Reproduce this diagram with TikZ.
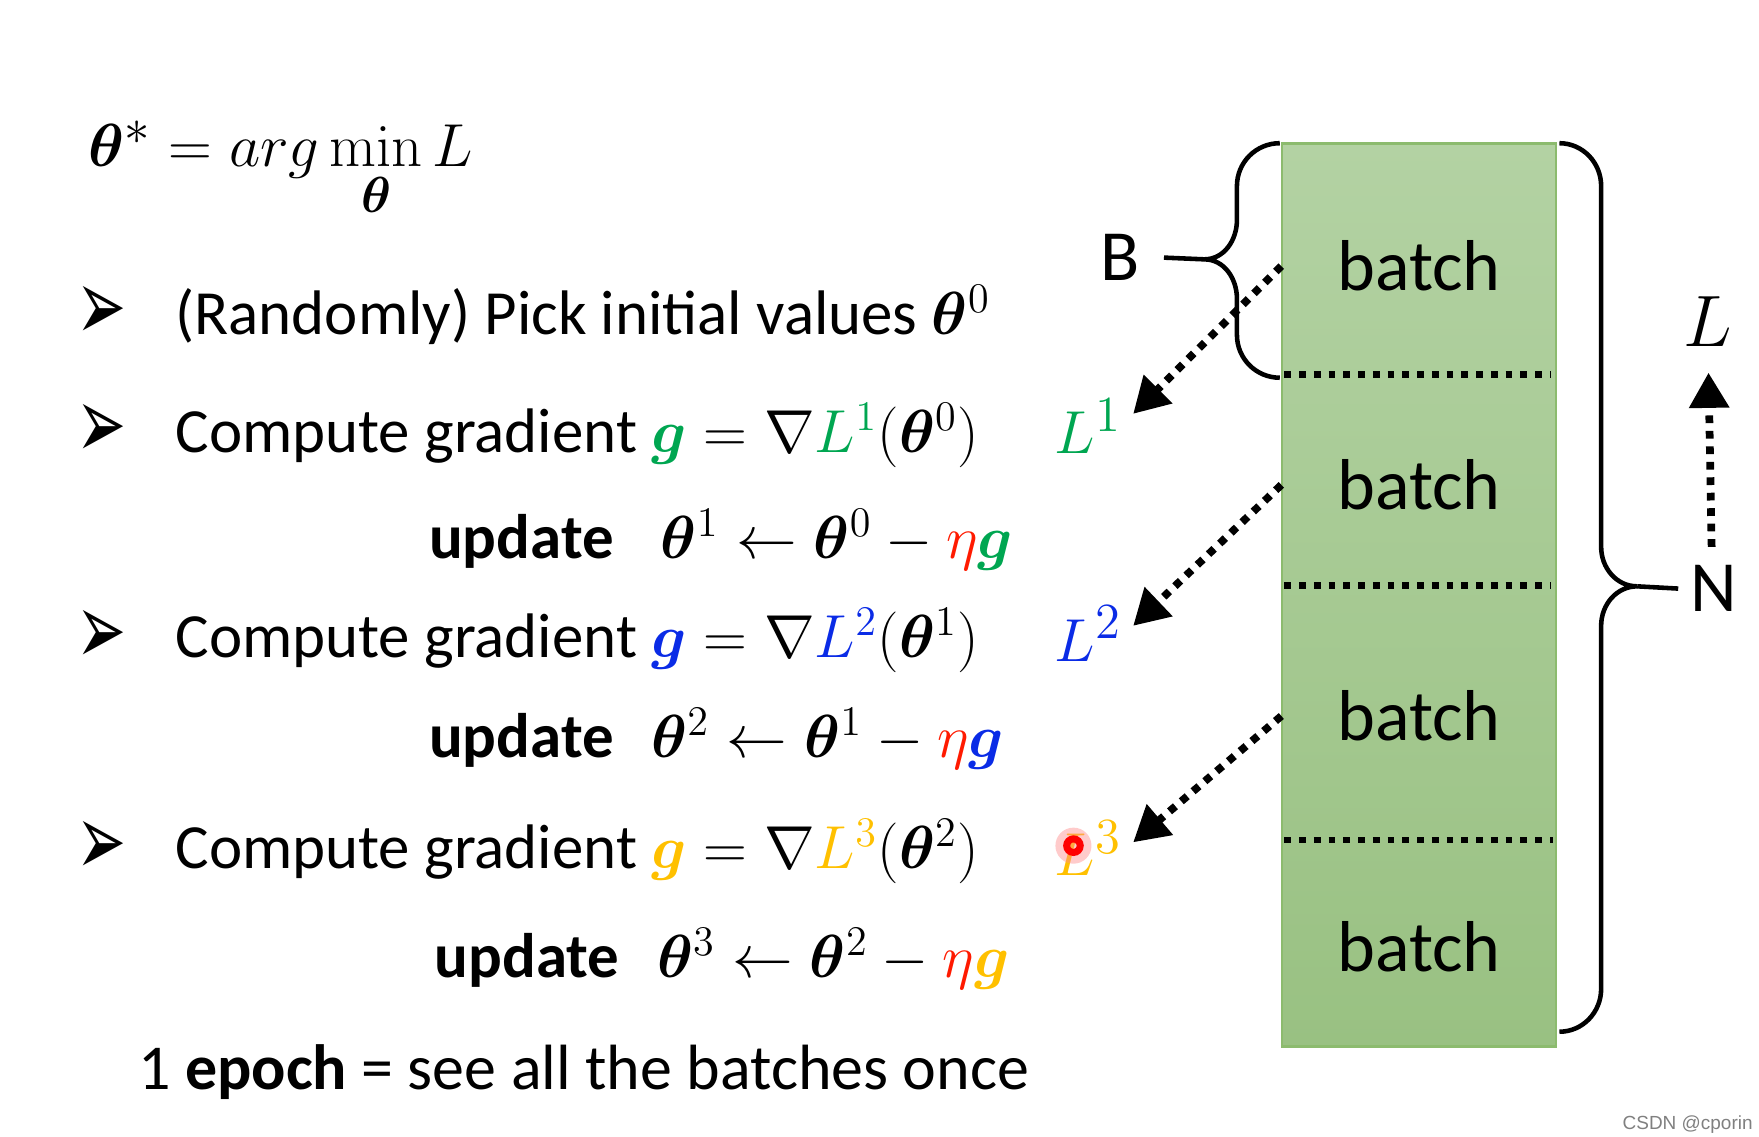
\documentclass[tikz,border=0pt]{standalone}
\usepackage{amsmath}
\usepackage{bm}
\usepackage[no-math]{fontspec}
\setmainfont{Carlito}
\newfontfamily\dingfont{DejaVu Sans}
\newfontfamily\markfont{Liberation Sans}
\usetikzlibrary{arrows.meta}

\definecolor{ggreen}{HTML}{00A651}
\definecolor{gblue}{HTML}{0A2BE6}
\definecolor{gorange}{HTML}{FFC000}
\definecolor{gred}{HTML}{FF1A00}
\definecolor{boxtop}{HTML}{B3D2A3}
\definecolor{boxbot}{HTML}{99C182}
\definecolor{boxedge}{HTML}{8CBB6E}

\tikzset{
    txt/.style={anchor=base west, inner sep=0pt, font=\fontsize{17.9}{21}\selectfont},
    arrowmark/.style={font=\dingfont\fontsize{17}{20}\selectfont},
    lab/.style={font=\fontsize{19}{22}\selectfont},
    big/.style={font=\fontsize{20.5}{24}\selectfont},
    cell/.style={big, minimum width=27.40mm, inner sep=0pt},
    brace/.style={line width=1.3pt},
    sep/.style={line width=1.9pt, dash pattern=on 1.9pt off 2.3pt},
    flow/.style={line width=2.2pt, dash pattern=on 2.2pt off 2.2pt,
        -{Triangle[length=10pt, width=11pt]}}
}

\begin{document}
\begin{tikzpicture}[x=0.11276mm, y=-0.11276mm]
    \useasboundingbox (0,0) rectangle (1560,1008);

    \node[anchor=base west, inner sep=0pt, font=\fontsize{19}{23}\selectfont] (goal)
        at (78,148) {$\bm\theta^* = arg\min\limits_{\bm\theta} L$};

    \node[arrowmark] (m0) at (90,278) {\scalebox{1}[1.7]{➢}};
    \node[arrowmark] (m1) at (90,383) {\scalebox{1}[1.7]{➢}};
    \node[arrowmark] (m2) at (90,565) {\scalebox{1}[1.7]{➢}};
    \node[arrowmark] (m3) at (90,752) {\scalebox{1}[1.7]{➢}};

    \node[txt] (pick) at (155,297) {(Randomly) Pick initial values $\bm\theta^0$};
    \node[txt] (grad1) at (155,401)
        {Compute gradient ${\color{ggreen}\bm g} = \nabla {\color{ggreen}L^1}(\bm\theta^0)$};
    \node[txt] (upd1) at (380,495)
        {\textbf{update}\hspace{0.75em}$\bm\theta^1 \leftarrow \bm\theta^0 - {\color{gred}\eta}{\color{ggreen}\bm g}$};
    \node[txt] (grad2) at (155,583)
        {Compute gradient ${\color{gblue}\bm g} = \nabla {\color{gblue}L^2}(\bm\theta^1)$};
    \node[txt] (upd2) at (380,672)
        {\textbf{update}\hspace{0.6em}$\bm\theta^2 \leftarrow \bm\theta^1 - {\color{gred}\eta}{\color{gblue}\bm g}$};
    \node[txt] (grad3) at (155,770)
        {Compute gradient ${\color{gorange}\bm g} = \nabla {\color{gorange}L^3}(\bm\theta^2)$};
    \node[txt] (upd3) at (385,867)
        {\textbf{update}\hspace{0.6em}$\bm\theta^3 \leftarrow \bm\theta^2 - {\color{gred}\eta}{\color{gorange}\bm g}$};
    \node[txt, font=\fontsize{18.2}{22}\selectfont] (epoch) at (122,966)
        {1 \textbf{epoch} = see all the batches once};

    \node[lab, text=ggreen] (L1) at (965,378) {$L^1$};
    \node[lab, text=gblue] (L2) at (965,562) {$L^2$};
    \node[lab, text=gorange] (L3) at (965,752) {$L^3$};
    \fill[red!45, opacity=0.45] (952,750) circle (16);
    \draw[red, line width=2pt] (952,750) circle (6);

    \shade[top color=boxtop, bottom color=boxbot, draw=boxedge, line width=0.8pt]
        (1137,127) rectangle (1380,928);
    \draw[sep] (1139,332) -- (1375,332);
    \draw[sep] (1139,519) -- (1375,519);
    \draw[sep] (1139,745) -- (1377,745);
    \node[cell] (b1) at (1258.5,236) {batch};
    \node[cell] (b2) at (1258.5,430) {batch};
    \node[cell] (b3) at (1258.5,635) {batch};
    \node[cell] (b4) at (1258.5,840) {batch};

    \coordinate (t1) at (1005,367);
    \coordinate (t2) at (1005,555);
    \coordinate (t3) at (1005,747);
    \draw[flow] (b1.west) -- (t1);
    \draw[flow] (b2.west) -- (t2);
    \draw[flow] (b3.west) -- (t3);

    \node[big] (B) at (993,228) {B};
    \coordinate (Btip) at (1068,230);
    \draw[brace] (1135,127) to[out=180,in=90] (1097,165) -- (1097,195)
        to[out=-90,in=0] (Btip) to[out=0,in=90] (1097,265) -- (1097,297)
        to[out=-90,in=180] (1135,335);
    \draw[brace, shorten <=3.5pt] (B.east) -- (Btip);

    \node[big] (N) at (1520,522) {N};
    \coordinate (Ntip) at (1452,520);
    \draw[brace] (1383,127) to[out=0,in=90] (1420,165) -- (1420,485)
        to[out=-90,in=180] (Ntip) to[out=180,in=90] (1420,555) -- (1420,877)
        to[out=-90,in=0] (1383,915);
    \draw[brace] (Ntip) -- (N.west);

    \node[big] (Lall) at (1515,285) {$L$};
    \coordinate (Nfoot) at (1518,485);
    \draw[flow, shorten >=4pt] (Nfoot) -- (Lall.south);

    \node[anchor=east, inner sep=0pt, text=gray, font=\markfont\fontsize{5.4}{7}\selectfont]
        (mark) at (1555,997) {CSDN @cporin};
\end{tikzpicture}
\end{document}
